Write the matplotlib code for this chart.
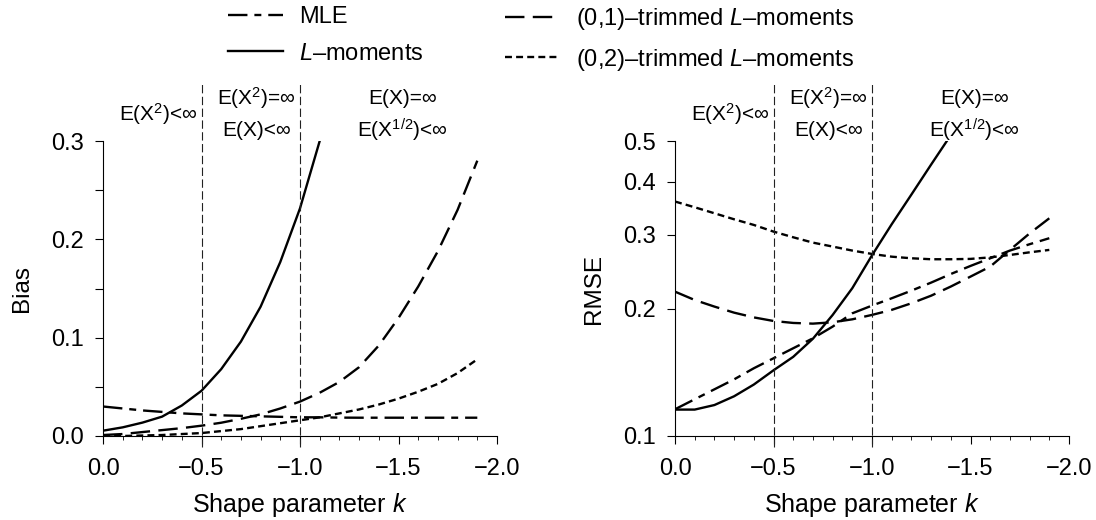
import numpy as np
import matplotlib
matplotlib.use("Agg")
import matplotlib.pyplot as plt
from matplotlib.lines import Line2D
from matplotlib.ticker import FixedLocator, NullLocator, FuncFormatter

plt.rcParams['font.family'] = ['Liberation Sans', 'DejaVu Sans']
plt.rcParams['mathtext.fontset'] = 'custom'
plt.rcParams['mathtext.rm'] = 'Liberation Sans'
plt.rcParams['mathtext.it'] = 'Liberation Sans:italic'
plt.rcParams['lines.scale_dashes'] = False

# shape parameter grid
k = np.round(-0.1 * np.arange(20), 1)

# bias (left panel)
bias_mle = [0.030, 0.028, 0.026, 0.0245, 0.023, 0.022, 0.021, 0.0205, 0.020, 0.0195,
            0.019, 0.019, 0.0187, 0.0186, 0.0186, 0.0186, 0.0186, 0.0186, 0.0186, 0.0186]
k_lmom_bias = k[:12]
bias_lmom = [0.0054, 0.0088, 0.0136, 0.0197, 0.031, 0.046, 0.068, 0.096, 0.1315, 0.177,
             0.2315, 0.300]
bias_t1 = [0.001, 0.002, 0.004, 0.006, 0.008, 0.0105, 0.0135, 0.0175, 0.022, 0.028,
           0.035, 0.044, 0.055, 0.070, 0.092, 0.120, 0.152, 0.188, 0.230, 0.280]
bias_t2 = [0.0, 0.0, 0.0005, 0.001, 0.002, 0.003, 0.005, 0.007, 0.010, 0.013,
           0.016, 0.019, 0.023, 0.027, 0.032, 0.038, 0.045, 0.053, 0.064, 0.078]

# RMSE (right panel)
rmse_mle = [0.1157, 0.1222, 0.129, 0.1362, 0.1447, 0.1528, 0.1614, 0.1704, 0.1816, 0.1953,
            0.2037, 0.212, 0.221, 0.2309, 0.242, 0.2529, 0.2637, 0.275, 0.2847, 0.2942]
k_lmom_rmse = [0.0, -0.1, -0.2, -0.3, -0.4, -0.5, -0.6, -0.7, -0.8, -0.9, -1.0, -1.1, -1.2, -1.3, -1.38]
rmse_lmom = [0.1155, 0.1155, 0.1184, 0.1242, 0.1324, 0.1431, 0.154, 0.170, 0.1935, 0.224,
             0.268, 0.3175, 0.3733, 0.4396, 0.500]
rmse_t1 = [0.2198, 0.210, 0.2026, 0.196, 0.191, 0.1873, 0.1853, 0.1846, 0.186, 0.189,
           0.1936, 0.199, 0.2063, 0.215, 0.226, 0.2386, 0.252, 0.276, 0.302, 0.328]
rmse_t2 = [0.3594, 0.3483, 0.3371, 0.3262, 0.3163, 0.305, 0.2957, 0.2872, 0.2811, 0.275,
           0.270, 0.266, 0.2637, 0.2623, 0.2623, 0.2628, 0.265, 0.2685, 0.2724, 0.276]

region_k = [-0.5, -1.0]
region_labels = [("E(X$^2$)<∞", -0.28, 1.093),
                 ("E(X$^2$)=∞", -0.78, 1.145),
                 ("E(X)<∞", -0.78, 1.037),
                 ("E(X)=∞", -1.52, 1.145),
                 ("E(X$^{1/2}$)<∞", -1.52, 1.037)]

styles = {
    'mle': dict(color='black', lw=1.7, dashes=(14, 5, 5, 5)),
    'lmom': dict(color='black', lw=1.7, linestyle='-'),
    't1': dict(color='black', lw=1.7, dashes=(14, 6)),
    't2': dict(color='black', lw=1.7, dashes=(5, 3)),
}

fig = plt.figure(figsize=(10.96, 5.2), dpi=100)
W, H = 1096, 520
ax1 = fig.add_axes([103 / W, (520 - 436) / H, 394 / W, 295 / H])
ax2 = fig.add_axes([675 / W, (520 - 436) / H, 394 / W, 295 / H])

fmt = FuncFormatter(lambda v, pos: f"{v:.1f}".replace('-', '\u2212'))


def style_axes(ax):
    ax.spines['top'].set_visible(False)
    ax.spines['right'].set_visible(False)
    ax.spines['left'].set_linewidth(0.8)
    ax.spines['bottom'].set_linewidth(0.8)
    ax.set_xlim(0, -2.0)
    ax.xaxis.set_major_locator(FixedLocator([0, -0.5, -1.0, -1.5, -2.0]))
    ax.xaxis.set_minor_locator(FixedLocator(np.round(-0.1 * np.arange(21), 1)))
    ax.xaxis.set_major_formatter(fmt)
    ax.yaxis.set_major_formatter(fmt)
    ax.tick_params(axis='x', which='major', length=6, width=0.8, pad=10, labelsize=17)
    ax.tick_params(axis='x', which='minor', length=3, width=0.6)
    ax.tick_params(axis='y', which='both', length=5.5, width=0.8, pad=8, labelsize=17)
    ax.set_xlabel('Shape parameter $k$', fontsize=18, labelpad=8)
    for xv in region_k:
        ax.plot([xv, xv], [-0.037, 1.197], transform=ax.get_xaxis_transform(),
                color='#222222', lw=0.8, dashes=(6, 2.5), clip_on=False)
    for txt, xv, yv in region_labels:
        ax.text(xv, yv, txt, transform=ax.get_xaxis_transform(), ha='center', va='center',
                fontsize=15)


# left: bias
ax1.plot(k, bias_mle, **styles['mle'])
ax1.plot(k_lmom_bias, bias_lmom, **styles['lmom'])
ax1.plot(k, bias_t1, **styles['t1'])
ax1.plot(k, bias_t2, **styles['t2'])
style_axes(ax1)
ax1.set_ylim(0, 0.3)
ax1.yaxis.set_major_locator(FixedLocator([0, 0.1, 0.2, 0.3]))
ax1.yaxis.set_minor_locator(FixedLocator([0.05, 0.15, 0.25]))
ax1.set_ylabel('Bias', fontsize=17.5, labelpad=13)

# right: RMSE (log scale)
ax2.plot(k, rmse_mle, **styles['mle'])
ax2.plot(k_lmom_rmse, rmse_lmom, **styles['lmom'])
ax2.plot(k, rmse_t1, **styles['t1'])
ax2.plot(k, rmse_t2, **styles['t2'])
ax2.set_yscale('log')
style_axes(ax2)
ax2.set_ylim(0.1, 0.5)
ax2.yaxis.set_major_locator(FixedLocator([0.1, 0.2, 0.3, 0.4, 0.5]))
ax2.yaxis.set_minor_locator(NullLocator())
ax2.yaxis.set_major_formatter(fmt)
ax2.set_ylabel('RMSE', fontsize=17.5, labelpad=13)

# legend, two columns
h_mle = Line2D([], [], **styles['mle'])
h_lmom = Line2D([], [], **styles['lmom'])
h_t1 = Line2D([], [], **styles['t1'])
h_t2 = Line2D([], [], **styles['t2'])
leg_kw = dict(frameon=False, fontsize=17, handlelength=2.35, handletextpad=0.65,
              labelspacing=0.62, borderpad=0, borderaxespad=0, loc='upper left')
leg1 = fig.legend([h_mle, h_lmom], ['MLE', '$L$–moments'],
                  bbox_to_anchor=(228 / W, 1 - 6 / H), **leg_kw)
leg2 = fig.legend([h_t1, h_t2], ['(0,1)–trimmed $L$–moments', '(0,2)–trimmed $L$–moments'],
                  bbox_to_anchor=(505 / W, 1 - 6 / H), **leg_kw)

fig.savefig('out.png', dpi=100)
